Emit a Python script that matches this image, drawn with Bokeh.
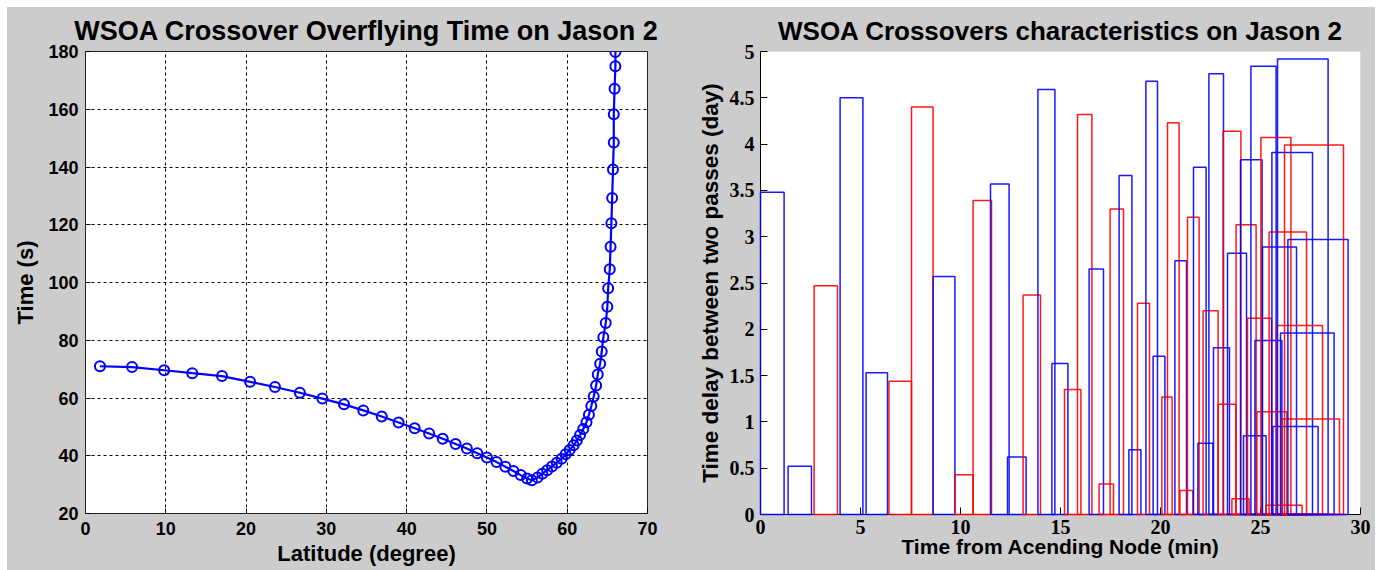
from bokeh.plotting import figure
from bokeh.layouts import row
from bokeh.models import FixedTicker, Range1d, CustomJSTickFormatter, ColumnDataSource
from bokeh.embed import file_html
from bokeh.resources import INLINE

# ---------------- data: left panel ----------------
latitude = [1.8, 5.8, 9.8, 13.3, 17.0, 20.5, 23.6, 26.7, 29.5, 32.2, 34.6, 36.9, 39.0,
            41.0, 42.8, 44.5, 46.1, 47.5, 48.8, 50.0, 51.2, 52.3, 53.3, 54.2, 55.0, 55.6,
            56.3, 56.9, 57.5, 58.1, 58.7, 59.3, 59.8, 60.3, 60.8, 61.2, 61.6, 62.0, 62.4,
            62.7, 63.0, 63.3, 63.6, 63.8, 64.1, 64.3, 64.5, 64.8, 65.0, 65.1, 65.3, 65.4,
            65.5, 65.6, 65.7, 65.8, 65.8, 65.9, 66.0, 66.0]
overfly_time = [71.0, 70.7, 69.6, 68.6, 67.6, 65.6, 63.8, 61.8, 59.8, 57.8, 55.7, 53.6, 51.5,
                49.5, 47.7, 45.9, 44.1, 42.5, 40.9, 39.4, 37.8, 36.2, 34.7, 33.3, 32.1, 31.5,
                32.5, 33.8, 35.0, 36.3, 37.6, 39.0, 40.5, 42.0, 43.6, 45.3, 47.2, 49.3, 51.6,
                54.2, 57.2, 60.5, 64.3, 68.1, 71.9, 76.1, 81.0, 86.0, 91.6, 98.0, 104.6, 112.4,
                120.5, 129.3, 139.1, 148.5, 158.3, 167.1, 174.9, 179.8]

# ---------------- data: right panel ----------------
blue_start = [0.0, 1.38, 3.98, 5.28, 8.63, 11.5, 12.35, 13.87, 14.57, 16.43, 17.93, 18.42,
              19.27, 19.63, 20.72, 21.65, 21.87, 22.42, 22.65, 23.35, 24.0, 24.15, 24.52,
              24.72, 25.1, 25.57, 25.62, 25.85, 26.0, 26.37]
blue_end = [1.18, 2.55, 5.12, 6.35, 9.72, 12.43, 13.28, 14.72, 15.37, 17.15, 18.57, 19.02,
            19.85, 20.22, 21.3, 22.28, 22.62, 23.15, 23.45, 24.3, 25.08, 25.28, 25.78,
            26.07, 26.8, 27.6, 27.88, 28.38, 28.68, 29.38]
blue_delay = [3.48, 0.52, 4.50, 1.53, 2.57, 3.57, 0.62, 4.59, 1.63, 2.65, 3.66, 0.70,
              4.68, 1.71, 2.74, 3.75, 0.77, 4.76, 1.80, 2.82, 3.83, 0.85, 4.84,
              1.88, 2.89, 3.91, 0.95, 4.92, 1.96, 2.97]

red_start = [2.68, 6.42, 7.55, 9.72, 10.63, 13.13, 15.2, 15.85, 16.93, 17.48, 18.85, 20.07,
             20.35, 20.97, 21.35, 22.13, 22.88, 23.13, 23.57, 23.78, 24.35, 24.82, 25.02,
             25.28, 25.43, 25.8, 26.08, 26.2]
red_end = [3.85, 7.55, 8.63, 10.63, 11.55, 14.0, 16.02, 16.57, 17.65, 18.15, 19.45, 20.58,
           20.93, 21.62, 21.93, 22.88, 23.77, 24.02, 24.43, 24.78, 25.55, 26.32, 26.52,
           27.08, 27.3, 28.1, 28.95, 29.15]
red_delay = [2.47, 1.44, 4.40, 0.43, 3.39, 2.37, 1.35, 4.32, 0.33, 3.30, 2.28, 1.27,
             4.23, 0.26, 3.21, 2.20, 1.19, 4.14, 0.17, 3.13, 2.12, 1.11, 4.07,
             0.10, 3.05, 2.04, 1.03, 3.99]

BG = "#cccccc"
SANS = "Liberation Sans"
SERIF = "Liberation Serif"

# ---------------- left figure ----------------
p1 = figure(frame_width=562, frame_height=462, min_border_left=78, min_border_right=43,
            min_border_top=44, min_border_bottom=57,
            x_range=Range1d(0, 70), y_range=Range1d(20, 180),
            output_backend="svg", toolbar_location=None,
            title="WSOA Crossover Overflying Time on Jason 2")
p1.background_fill_color = "white"
p1.border_fill_color = BG
p1.outline_line_color = "#222222"
p1.outline_line_width = 1
p1.title.align = "center"
p1.title.text_font = SANS
p1.title.text_font_size = "27px"
p1.title.text_font_style = "bold"
p1.title.text_color = "black"
p1.title.standoff = 12

p1.xaxis.ticker = FixedTicker(ticks=list(range(0, 71, 10)))
p1.yaxis.ticker = FixedTicker(ticks=list(range(20, 181, 20)))
p1.xaxis.axis_label = "Latitude (degree)"
p1.yaxis.axis_label = "Time (s)"
for ax in (p1.xaxis[0], p1.yaxis[0]):
    ax.axis_line_color = "#222222"
    ax.major_tick_in = 5
    ax.major_tick_out = 0
    ax.minor_tick_line_color = None
    ax.major_label_text_font = SANS
    ax.major_label_text_font_style = "bold"
    ax.major_label_text_font_size = "18px"
    ax.major_label_text_color = "black"
    ax.axis_label_text_font = SANS
    ax.axis_label_text_font_style = "bold"
    ax.axis_label_text_font_size = "22px"
    ax.axis_label_text_color = "black"
p1.xaxis.major_label_standoff = 8
p1.yaxis.major_label_standoff = 7
p1.xaxis.axis_label_standoff = 3
p1.yaxis.axis_label_standoff = 7
for g in (p1.xgrid[0], p1.ygrid[0]):
    g.grid_line_color = "black"
    g.grid_line_dash = "3 3"
    g.grid_line_width = 1

p1.line(latitude, overfly_time, line_color="#0000ff", line_width=2.2)
p1.scatter(latitude, overfly_time, marker="circle", size=10, fill_color=None,
           line_color="#0000ff", line_width=2)

# ---------------- right figure ----------------
p2 = figure(frame_width=600, frame_height=463, min_border_left=70, min_border_right=15,
            min_border_top=43, min_border_bottom=57,
            x_range=Range1d(0, 30), y_range=Range1d(0, 5),
            output_backend="svg", toolbar_location=None,
            title="WSOA Crossovers characteristics on Jason 2")
p2.background_fill_color = "white"
p2.border_fill_color = BG
p2.outline_line_color = "#dddddd"
p2.title.align = "center"
p2.title.text_font = SANS
p2.title.text_font_size = "26px"
p2.title.text_font_style = "bold"
p2.title.text_color = "black"
p2.title.standoff = 11
p2.xgrid.grid_line_color = None
p2.ygrid.grid_line_color = None

p2.xaxis.ticker = FixedTicker(ticks=list(range(0, 31, 5)))
p2.yaxis.ticker = FixedTicker(ticks=[i * 0.5 for i in range(11)])
p2.yaxis.formatter = CustomJSTickFormatter(code="return String(Math.round(tick*10)/10);")
p2.xaxis.axis_label = "Time from Acending Node (min)"
p2.yaxis.axis_label = "Time delay between two passes (day)"
for ax in (p2.xaxis[0], p2.yaxis[0]):
    ax.axis_line_color = "black"
    ax.major_tick_in = 7
    ax.major_tick_out = 0
    ax.minor_tick_line_color = None
    ax.major_label_text_font = SERIF
    ax.major_label_text_font_style = "bold"
    ax.major_label_text_font_size = "20px"
    ax.major_label_text_color = "black"
    ax.axis_label_text_font = SANS
    ax.axis_label_text_font_style = "bold"
    ax.axis_label_text_color = "black"
p2.xaxis.axis_label_text_font_size = "21px"
p2.yaxis.axis_label_text_font_size = "22.5px"
p2.xaxis.major_label_standoff = 5
p2.yaxis.major_label_standoff = 6
p2.xaxis.axis_label_standoff = -2
p2.yaxis.axis_label_standoff = 4

left = blue_start + red_start
right = blue_end + red_end
top = blue_delay + red_delay
colors = ["#0000ff"] * len(blue_start) + ["#ff0000"] * len(red_start)
order = sorted(range(len(left)), key=lambda i: left[i])
src = ColumnDataSource(dict(
    left=[left[i] for i in order], right=[right[i] for i in order],
    top=[top[i] for i in order], bottom=[0.0] * len(order),
    color=[colors[i] for i in order]))
r = p2.quad(left="left", right="right", top="top", bottom="bottom", source=src,
            fill_color=None, line_color="color", line_width=1.5, line_alpha=0.9)
r.level = "overlay"

layout = row(p1, p2, spacing=0, margin=(7, 5, 0, 7),
             styles={"background-color": BG})
open("out.html", "w").write(file_html(layout, INLINE))
